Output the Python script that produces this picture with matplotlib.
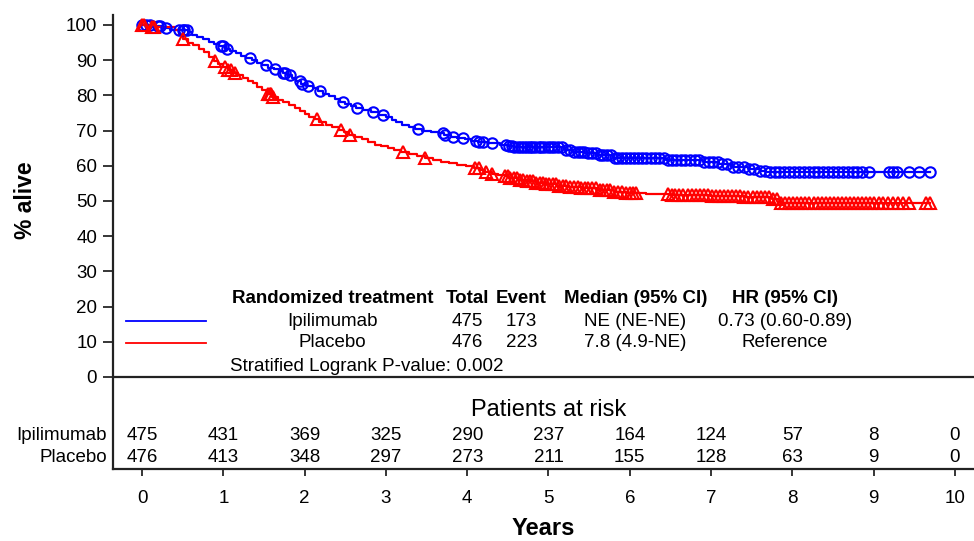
import numpy as np
import matplotlib
matplotlib.use("Agg")
import matplotlib.pyplot as plt

plt.rcParams["font.family"] = ["Liberation Sans", "DejaVu Sans"]

# --- KM curves (years, % alive), steps-post ---
ipi_t = [0.00, 0.15, 0.25, 0.35, 0.57, 0.62, 0.68, 0.75, 0.82, 0.88, 0.95, 1.02, 1.08,
         1.15, 1.22, 1.28, 1.35, 1.42, 1.48, 1.55, 1.62, 1.68, 1.73, 1.78, 1.84, 1.90,
         1.95, 2.02, 2.10, 2.17, 2.23, 2.30, 2.37, 2.43, 2.50, 2.57, 2.63, 2.72, 2.82,
         2.92, 3.00, 3.07, 3.13, 3.20, 3.28, 3.36, 3.45, 3.55, 3.65, 3.72, 3.80, 3.88,
         3.97, 4.05, 4.13, 4.25, 4.40, 4.50, 4.58, 5.20, 5.30, 5.45, 5.60, 5.80, 6.45,
         6.90, 7.10, 7.25, 7.45, 7.60, 7.68, 9.69]
ipi_s = [100.0, 99.8, 99.2, 98.6, 98.0, 97.2, 96.6, 95.9, 95.2, 94.6, 93.9, 93.1, 92.6,
         92.0, 91.2, 90.6, 90.0, 89.2, 88.6, 87.9, 87.4, 87.0, 86.4, 85.8, 85.0, 84.0,
         83.2, 82.6, 82.0, 81.2, 80.5, 79.8, 79.0, 78.2, 77.5, 76.9, 76.4, 75.9, 75.2,
         74.5, 73.8, 73.0, 72.3, 71.7, 71.0, 70.4, 70.0, 69.6, 69.2, 68.8, 68.3, 67.9,
         67.5, 67.0, 66.7, 66.4, 66.0, 65.6, 65.2, 64.6, 64.0, 63.5, 63.0, 62.2, 61.6,
         61.0, 60.5, 59.7, 59.2, 58.6, 58.2, 58.2]

pbo_t = [0.00, 0.08, 0.40, 0.45, 0.50, 0.57, 0.63, 0.70, 0.76, 0.82, 0.88, 0.94, 1.00,
         1.06, 1.12, 1.18, 1.24, 1.30, 1.36, 1.42, 1.48, 1.54, 1.60, 1.67, 1.74, 1.81,
         1.88, 1.94, 2.00, 2.06, 2.12, 2.18, 2.26, 2.34, 2.42, 2.49, 2.55, 2.62, 2.70,
         2.78, 2.86, 2.94, 3.02, 3.10, 3.18, 3.28, 3.38, 3.48, 3.58, 3.68, 3.78, 3.88,
         3.98, 4.08, 4.16, 4.22, 4.30, 4.38, 4.46, 4.52, 4.62, 4.72, 4.85, 4.95, 5.10,
         5.25, 5.40, 5.60, 5.80, 5.95, 6.20, 6.50, 7.00, 7.40, 7.75, 7.85, 9.69]
pbo_s = [100.0, 99.5, 98.5, 97.2, 96.0, 95.0, 94.3, 93.3, 92.2, 91.0, 89.8, 88.8, 88.0,
         87.3, 86.5, 85.7, 84.9, 84.2, 83.5, 82.5, 81.5, 80.4, 79.6, 78.8, 78.0, 77.3,
         76.4, 75.6, 74.8, 74.0, 73.2, 72.4, 71.6, 71.0, 70.3, 69.6, 68.8, 68.2, 67.5,
         66.8, 66.0, 65.5, 65.0, 64.4, 63.8, 63.3, 62.8, 62.2, 61.7, 61.2, 60.7, 60.3,
         59.9, 59.5, 58.8, 58.2, 57.8, 57.4, 57.0, 56.4, 56.0, 55.6, 55.2, 54.8, 54.4,
         54.0, 53.6, 53.0, 52.6, 52.3, 51.9, 51.6, 51.3, 51.0, 50.5, 49.5, 49.5]

# censoring times (years)
ipi_cens = [0.00, 0.05, 0.10, 0.20, 0.22, 0.30, 0.45, 0.50, 0.52, 0.55, 0.97, 1.00, 1.04,
            1.33, 1.53, 1.63, 1.73, 1.76, 1.82, 1.94, 1.97, 2.04, 2.19, 2.47, 2.65, 2.84,
            2.96, 3.39, 3.70, 3.73, 3.82, 3.95, 4.11, 4.15, 4.20, 4.31, 4.48, 4.52,
            4.55, 4.58, 4.62, 4.66, 4.70, 4.73, 4.77, 4.80, 4.84, 4.88, 4.91, 4.95, 4.99,
            5.03, 5.07, 5.12, 5.16, 5.22, 5.27, 5.31, 5.36, 5.40, 5.44, 5.49, 5.53, 5.58,
            5.63, 5.67, 5.72, 5.77, 5.82, 5.86, 5.91, 5.95, 6.00, 6.05, 6.10, 6.15, 6.20,
            6.26, 6.31, 6.36, 6.42, 6.47, 6.52, 6.57, 6.63, 6.68, 6.74, 6.80, 6.85, 6.91,
            6.97, 7.02, 7.08, 7.14, 7.20, 7.27, 7.33, 7.40, 7.47, 7.53, 7.60, 7.66, 7.72,
            7.78, 7.84, 7.90, 7.96, 8.02, 8.08, 8.14, 8.20, 8.26, 8.32, 8.38, 8.44, 8.50,
            8.56, 8.62, 8.68, 8.74, 8.80, 8.86, 8.94, 9.19, 9.24, 9.29, 9.43, 9.56, 9.69]
pbo_cens = [0.00, 0.03, 0.12, 0.15, 0.50, 0.90, 1.02, 1.06, 1.10, 1.14, 1.55, 1.57, 1.59,
            1.61, 2.15, 2.45, 2.56, 3.21, 3.48, 4.09, 4.15, 4.23, 4.30, 4.46, 4.50,
            4.53, 4.57, 4.61, 4.65, 4.69, 4.73, 4.77, 4.81, 4.85, 4.89, 4.93, 4.97, 5.01,
            5.05, 5.09, 5.13, 5.18, 5.22, 5.27, 5.31, 5.36, 5.40, 5.45, 5.49, 5.54, 5.58,
            5.63, 5.67, 5.72, 5.76, 5.81, 5.86, 5.90, 5.95, 6.00, 6.04, 6.08,
            6.47, 6.52, 6.56, 6.61, 6.66, 6.71, 6.76, 6.81, 6.86, 6.91, 6.96, 7.01, 7.06,
            7.11, 7.16, 7.21, 7.26, 7.31, 7.36, 7.41, 7.46, 7.51, 7.56, 7.61, 7.66, 7.71,
            7.76, 7.81, 7.86, 7.91, 7.96, 8.01, 8.06, 8.11, 8.16, 8.21, 8.26, 8.31, 8.36,
            8.41, 8.46, 8.51, 8.56, 8.61, 8.66, 8.71, 8.76, 8.81, 8.86, 8.91, 8.96, 9.01,
            9.06, 9.12, 9.18, 9.24, 9.30, 9.36, 9.43, 9.64, 9.69]

years = list(range(0, 11))
risk_ipi = [475, 431, 369, 325, 290, 237, 164, 124, 57, 8, 0]
risk_pbo = [476, 413, 348, 297, 273, 211, 155, 128, 63, 9, 0]

table_header = ["Randomized treatment", "Total", "Event", "Median (95% CI)", "HR (95% CI)"]
table_ipi = ["Ipilimumab", "475", "173", "NE (NE-NE)", "0.73 (0.60-0.89)"]
table_pbo = ["Placebo", "476", "223", "7.8 (4.9-NE)", "Reference"]


def step_at(t_list, s_list, times):
    idx = np.searchsorted(np.array(t_list), np.array(times), side="right") - 1
    return np.array(s_list)[np.clip(idx, 0, len(s_list) - 1)]


BLUE = "#0000ff"
RED = "#ff0000"

fig = plt.figure(figsize=(9.74, 5.41), dpi=100)
ax = fig.add_axes([113 / 974, 1 - 469 / 541, 1 - 113 / 974, (469 - 15) / 541])

ax.plot(ipi_t, ipi_s, drawstyle="steps-post", color=BLUE, lw=1.6)
ax.plot(pbo_t, pbo_s, drawstyle="steps-post", color=RED, lw=1.6)
ax.plot(ipi_cens, step_at(ipi_t, ipi_s, ipi_cens), ls="none", marker="o", ms=7.5,
        mfc="none", mec=BLUE, mew=1.5)
ax.plot(pbo_cens, step_at(pbo_t, pbo_s, pbo_cens), ls="none", marker="^", ms=8.5,
        mfc="none", mec=RED, mew=1.5)

ax.set_xlim(-0.357, 10.234)
ax.set_ylim(-26.14, 102.84)
ax.axhline(0, color="#222222", lw=1.6)

for s in ["top", "right"]:
    ax.spines[s].set_visible(False)
for s in ["left", "bottom"]:
    ax.spines[s].set_linewidth(1.6)
    ax.spines[s].set_color("#222222")

ax.set_yticks(range(0, 101, 10))
ax.set_xticks(years)
ax.tick_params(axis="y", length=7.5, width=1.1, pad=4, labelsize=13.5)
ax.tick_params(axis="x", length=5, width=1.1, pad=10, labelsize=13.5)

fig.text(25 / 974, 1 - 200 / 541, "% alive", rotation=90, ha="center", va="center",
         fontsize=16.5, fontweight="bold")
ax.set_xlabel("Years", fontsize=17, fontweight="bold", labelpad=7)

# legend table
col_x = [2.34, 4.0, 4.67, 6.07, 7.91]
for x, h in zip(col_x, table_header):
    ax.text(x, 22.4, h, ha="center", va="center", fontsize=13.5, fontweight="bold")
for x, v in zip(col_x, table_ipi):
    ax.text(x, 15.9, v, ha="center", va="center", fontsize=13.5)
for x, v in zip(col_x, table_pbo):
    ax.text(x, 9.7, v, ha="center", va="center", fontsize=13.5)
ax.plot([-0.2, 0.79], [15.9, 15.9], color=BLUE, lw=1.3)
ax.plot([-0.2, 0.79], [9.7, 9.7], color=RED, lw=1.3)
ax.text(1.08, 3.1, "Stratified Logrank P-value: 0.002", ha="left", va="center", fontsize=13.5)

# at risk table
ax.text(5.0, -9.4, "Patients at risk", ha="center", va="center", fontsize=17)
for x, a, b in zip(years, risk_ipi, risk_pbo):
    ax.text(x, -16.5, str(a), ha="center", va="center", fontsize=13.5)
    ax.text(x, -23.0, str(b), ha="center", va="center", fontsize=13.5)
ax.text(-0.43, -16.5, "Ipilimumab", ha="right", va="center", fontsize=13.5, clip_on=False)
ax.text(-0.43, -23.0, "Placebo", ha="right", va="center", fontsize=13.5, clip_on=False)

fig.savefig("out.png", dpi=100)
